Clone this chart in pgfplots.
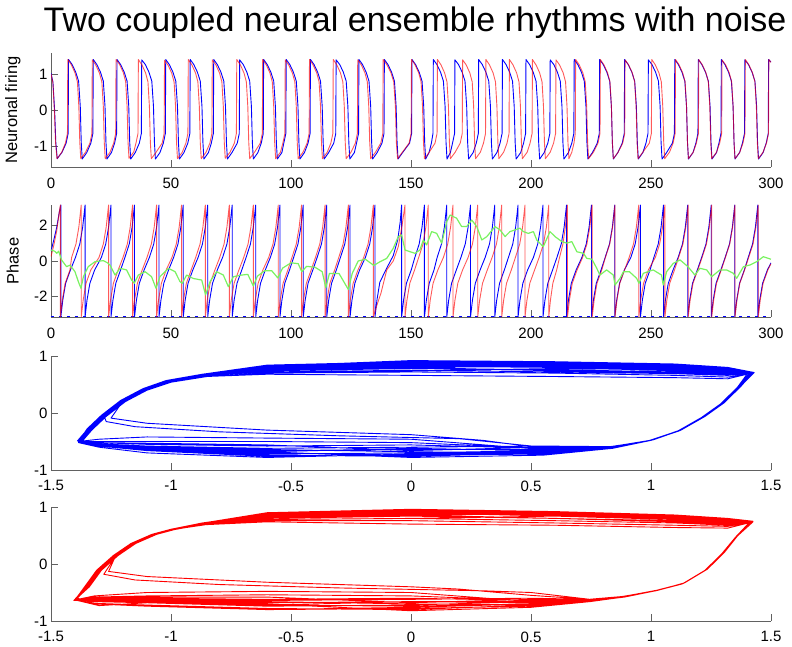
\documentclass[border=0pt]{standalone}
\usepackage{fontspec}
\setmainfont{Liberation Sans}
\usepackage{pgfplots}
\pgfplotsset{compat=1.18}

\definecolor{mblue}{rgb}{0,0,1}
\definecolor{mred}{rgb}{1,0,0}
\definecolor{mgreen}{rgb}{0.48,0.95,0.38}
\definecolor{axgray}{rgb}{0.38,0.38,0.38}

\pgfplotsset{
  mlab/.style={
    scale only axis, width=720pt, height=114pt,
    axis lines=left, axis line style={-, draw=axgray, line width=0.8pt},
    tick align=inside, major tick length=7pt,
    tick style={draw=axgray, line width=0.8pt},
    tick label style={font=\fontsize{15}{17}\selectfont},
    xticklabel style={yshift=-7pt},
    ylabel style={at={(axis description cs:-0.053,0.5)}, anchor=center, font=\fontsize{16.5}{18}\selectfont},
  },
  tline/.style={line width=0.9pt, line join=round},
  loop/.style={line width=0.9pt, line join=round},
}

\begin{document}
\begin{tikzpicture}
\useasboundingbox (0pt,0pt) rectangle (792pt,646pt);
\coordinate (p1) at (51pt,479pt);
\coordinate (p2) at (51pt,329pt);
\coordinate (p3) at (51pt,176pt);
\coordinate (p4) at (51pt,25pt);

\node[font=\fontsize{34}{40}\selectfont, anchor=base] at (415pt,614pt) {Two coupled neural ensemble rhythms with noise};

% ---------------- neuronal firing ----------------
\begin{axis}[mlab, at={(p1)}, anchor=south west,
  xmin=0, xmax=300, ymin=-1.58, ymax=1.58,
  xtick={0,50,100,150,200,250,300}, xticklabels={0,50,100,150,200,250,300},
  ytick={-1,0,1}, yticklabels={-1,0,1},
  ylabel={Neuronal firing}]
\addplot[mblue, tline] coordinates {
(0,1.02)(0.8,0.78)(1.5,0.0)(2.0,-0.9)(2.6,-1.35)(4.6,-1.17)(6.3,-0.92)(7.15,-0.65)
(7.3,1.40)(8.8,1.26)(10.3,1.05)(11.5,0.80)(12.2,0.10)(12.6,-0.90)(13.0,-1.36)(14.9,-1.18)(16.6,-0.92)(17.45,-0.65)
(17.6,1.40)(19.1,1.26)(20.6,1.05)(21.8,0.80)(22.5,0.10)(22.9,-0.90)(23.3,-1.36)(25.2,-1.18)(26.5,-0.92)(27.35,-0.65)
(27.5,1.40)(29.0,1.26)(30.5,1.05)(31.7,0.80)(32.4,0.10)(32.8,-0.90)(33.2,-1.36)(35.1,-1.18)(36.8,-0.92)(37.65,-0.65)
(37.8,1.39)(39.3,1.26)(40.8,1.05)(42.0,0.80)(42.7,0.10)(43.1,-0.90)(43.5,-1.36)(45.4,-1.18)(46.8,-0.92)(47.65,-0.65)
(47.8,1.40)(49.3,1.26)(50.8,1.05)(52.0,0.80)(52.7,0.10)(53.1,-0.90)(53.5,-1.36)(55.4,-1.18)(57.0,-0.92)(57.85,-0.65)
(58.0,1.40)(59.5,1.26)(61.0,1.05)(62.2,0.80)(62.9,0.10)(63.3,-0.90)(63.7,-1.36)(65.6,-1.18)(66.8,-0.92)(67.65,-0.65)
(67.8,1.40)(69.3,1.26)(70.8,1.05)(72.0,0.80)(72.7,0.10)(73.1,-0.90)(73.5,-1.36)(75.4,-1.18)(77.6,-0.92)(78.45,-0.65)
(78.6,1.39)(80.1,1.26)(81.6,1.05)(82.8,0.80)(83.5,0.10)(83.9,-0.90)(84.3,-1.36)(86.2,-1.18)(87.6,-0.92)(88.45,-0.65)
(88.6,1.40)(90.1,1.26)(91.6,1.05)(92.8,0.80)(93.5,0.10)(93.9,-0.90)(94.3,-1.36)(96.2,-1.18)(97.0,-0.92)(97.85,-0.65)
(98.0,1.40)(99.5,1.26)(101.0,1.05)(102.2,0.80)(102.9,0.10)(103.3,-0.90)(103.7,-1.36)(105.6,-1.18)(107.1,-0.92)(107.95,-0.65)
(108.1,1.40)(109.6,1.26)(111.1,1.05)(112.3,0.80)(113.0,0.10)(113.4,-0.90)(113.8,-1.36)(115.7,-1.18)(117.8,-0.92)(118.65,-0.65)
(118.8,1.39)(120.3,1.26)(121.8,1.05)(123.0,0.80)(123.7,0.10)(124.1,-0.90)(124.5,-1.36)(126.4,-1.18)(127.3,-0.92)(128.15,-0.65)
(128.3,1.40)(129.8,1.26)(131.3,1.05)(132.5,0.80)(133.2,0.10)(133.6,-0.90)(134.0,-1.36)(135.9,-1.18)(137.9,-0.92)(138.75,-0.65)
(138.9,1.40)(140.4,1.26)(141.9,1.05)(143.1,0.80)(143.8,0.10)(144.2,-0.90)(144.6,-1.36)(146.5,-1.18)(149.4,-0.92)(150.25,-0.65)
(150.4,1.40)(151.9,1.26)(153.4,1.05)(154.6,0.80)(155.3,0.10)(155.7,-0.90)(156.1,-1.36)(157.5,-1.18)(158.5,-0.92)(159.15,-0.65)
(159.3,1.40)(160.8,1.26)(162.3,1.05)(163.5,0.80)(164.2,0.10)(164.6,-0.90)(165.0,-1.36)(166.4,-1.18)(167.3,-0.92)(168.15,-0.65)
(168.3,1.39)(169.8,1.26)(171.3,1.05)(172.5,0.80)(173.2,0.10)(173.6,-0.90)(174.0,-1.36)(175.9,-1.18)(177.2,-0.92)(178.05,-0.65)
(178.2,1.40)(179.7,1.26)(181.2,1.05)(182.4,0.80)(183.1,0.10)(183.5,-0.90)(183.9,-1.36)(185.8,-1.18)(187.1,-0.92)(187.95,-0.65)
(188.1,1.40)(189.6,1.26)(191.1,1.05)(192.3,0.80)(193.0,0.10)(193.4,-0.90)(193.8,-1.36)(195.7,-1.18)(196.9,-0.92)(197.75,-0.65)
(197.9,1.40)(199.4,1.26)(200.9,1.05)(202.1,0.80)(202.8,0.10)(203.2,-0.90)(203.6,-1.36)(205.5,-1.18)(207.0,-0.92)(207.85,-0.65)
(208.0,1.39)(209.5,1.26)(211.0,1.05)(212.2,0.80)(212.9,0.10)(213.3,-0.90)(213.7,-1.36)(215.6,-1.18)(217.0,-0.92)(217.85,-0.65)
(218.0,1.40)(219.5,1.26)(221.0,1.05)(222.2,0.80)(222.9,0.10)(223.3,-0.90)(223.7,-1.36)(225.6,-1.18)(227.6,-0.92)(228.45,-0.65)
(228.6,1.40)(230.1,1.26)(231.6,1.05)(232.8,0.80)(233.5,0.10)(233.9,-0.90)(234.3,-1.36)(236.2,-1.18)(238.0,-0.92)(238.85,-0.65)
(239.0,1.40)(240.5,1.26)(242.0,1.05)(243.2,0.80)(243.9,0.10)(244.3,-0.90)(244.7,-1.36)(246.6,-1.18)(247.9,-0.92)(248.75,-0.65)
(248.9,1.39)(250.4,1.26)(251.9,1.05)(253.1,0.80)(253.8,0.10)(254.2,-0.90)(254.6,-1.36)(256.5,-1.18)(258.9,-0.92)(259.75,-0.65)
(259.9,1.40)(261.4,1.26)(262.9,1.05)(264.1,0.80)(264.8,0.10)(265.2,-0.90)(265.6,-1.36)(267.5,-1.18)(268.7,-0.92)(269.55,-0.65)
(269.7,1.40)(271.2,1.26)(272.7,1.05)(273.9,0.80)(274.6,0.10)(275.0,-0.90)(275.4,-1.36)(277.3,-1.18)(278.3,-0.92)(279.15,-0.65)
(279.3,1.40)(280.8,1.26)(282.3,1.05)(283.5,0.80)(284.2,0.10)(284.6,-0.90)(285.0,-1.36)(286.9,-1.18)(288.1,-0.92)(288.95,-0.65)
(289.1,1.39)(290.6,1.26)(292.1,1.05)(293.3,0.80)(294.0,0.10)(294.4,-0.90)(294.8,-1.36)(296.7,-1.18)(298.0,-0.92)(298.85,-0.65)
(299.0,1.40)(300,1.33)
};
\addplot[mred, tline, opacity=0.65] coordinates {
(0,1.00)(0.8,0.75)(1.4,0.0)(1.9,-0.9)(2.5,-1.35)(4.5,-1.17)(6.0,-0.92)(6.85,-0.65)
(7.0,1.40)(8.5,1.25)(10.0,1.03)(11.0,0.78)(11.6,0.10)(12.0,-0.90)(12.4,-1.35)(14.4,-1.17)(16.2,-0.92)(17.05,-0.65)
(17.2,1.39)(18.7,1.24)(20.2,1.02)(21.2,0.78)(21.8,0.10)(22.2,-0.90)(22.6,-1.35)(24.6,-1.17)(26.1,-0.92)(26.95,-0.65)
(27.1,1.40)(28.6,1.26)(30.1,1.04)(31.1,0.79)(31.7,0.10)(32.1,-0.90)(32.5,-1.34)(34.5,-1.16)(35.4,-0.92)(36.25,-0.65)
(36.4,1.40)(37.9,1.25)(39.4,1.03)(40.4,0.78)(41.0,0.10)(41.4,-0.90)(41.8,-1.35)(43.8,-1.17)(46.3,-0.92)(47.15,-0.65)
(47.3,1.38)(48.8,1.24)(50.3,1.02)(51.3,0.77)(51.9,0.10)(52.3,-0.90)(52.7,-1.35)(54.7,-1.17)(56.2,-0.92)(57.05,-0.65)
(57.2,1.40)(58.7,1.25)(60.2,1.03)(61.2,0.78)(61.8,0.10)(62.2,-0.90)(62.6,-1.35)(64.6,-1.17)(66.2,-0.92)(67.05,-0.65)
(67.2,1.39)(68.7,1.25)(70.2,1.03)(71.2,0.78)(71.8,0.10)(72.2,-0.90)(72.6,-1.34)(74.6,-1.17)(76.4,-0.92)(77.25,-0.65)
(77.4,1.40)(78.9,1.25)(80.4,1.03)(81.4,0.78)(82.0,0.10)(82.4,-0.90)(82.8,-1.35)(84.8,-1.17)(87.2,-0.92)(88.05,-0.65)
(88.2,1.40)(89.7,1.25)(91.2,1.03)(92.2,0.78)(92.8,0.10)(93.2,-0.90)(93.6,-1.35)(95.6,-1.17)(96.6,-0.92)(97.45,-0.65)
(97.6,1.39)(99.1,1.24)(100.6,1.02)(101.6,0.78)(102.2,0.10)(102.6,-0.90)(103.0,-1.35)(105.0,-1.17)(106.7,-0.92)(107.55,-0.65)
(107.7,1.40)(109.2,1.25)(110.7,1.03)(111.7,0.78)(112.3,0.10)(112.7,-0.90)(113.1,-1.35)(115.1,-1.17)(116.6,-0.92)(117.45,-0.65)
(117.6,1.40)(119.1,1.25)(120.6,1.03)(121.6,0.78)(122.2,0.10)(122.6,-0.90)(123.0,-1.35)(125.0,-1.17)(126.8,-0.92)(127.65,-0.65)
(127.8,1.39)(129.3,1.25)(130.8,1.03)(131.8,0.78)(132.4,0.10)(132.8,-0.90)(133.2,-1.35)(135.2,-1.17)(137.4,-0.92)(138.25,-0.65)
(138.4,1.40)(139.9,1.26)(141.6,1.04)(142.8,0.78)(143.5,0.10)(143.9,-0.90)(144.4,-1.35)(146.4,-1.17)(149.2,-0.92)(150.05,-0.65)
(150.2,1.40)(151.7,1.25)(153.2,1.03)(154.2,0.78)(154.8,0.10)(155.2,-0.90)(155.6,-1.35)(157.6,-1.17)(160.0,-0.92)(160.85,-0.65)
(161.0,1.40)(162.5,1.25)(164.0,1.03)(165.0,0.78)(165.6,0.10)(166.0,-0.90)(166.4,-1.35)(168.4,-1.17)(170.5,-0.92)(171.35,-0.65)
(171.5,1.39)(173.0,1.25)(174.5,1.03)(175.5,0.78)(176.1,0.10)(176.5,-0.90)(176.9,-1.35)(178.9,-1.17)(180.2,-0.92)(181.05,-0.65)
(181.2,1.40)(182.7,1.25)(184.2,1.03)(185.2,0.78)(185.8,0.10)(186.2,-0.90)(186.6,-1.35)(188.6,-1.17)(190.0,-0.92)(190.85,-0.65)
(191.0,1.40)(192.5,1.25)(194.0,1.03)(195.0,0.78)(195.6,0.10)(196.0,-0.90)(196.4,-1.35)(198.4,-1.17)(199.6,-0.92)(200.45,-0.65)
(200.6,1.40)(202.1,1.25)(203.6,1.03)(204.6,0.78)(205.2,0.10)(205.6,-0.90)(206.0,-1.35)(208.0,-1.17)(209.4,-0.92)(210.25,-0.65)
(210.4,1.39)(211.9,1.25)(213.4,1.03)(214.4,0.78)(215.0,0.10)(215.4,-0.90)(215.8,-1.35)(217.0,-1.17)(217.9,-0.92)(218.45,-0.65)
(218.6,1.40)(220.1,1.25)(221.6,1.03)(222.6,0.78)(223.2,0.10)(223.6,-0.90)(224.0,-1.35)(226.0,-1.17)(227.9,-0.92)(228.75,-0.65)
(228.9,1.40)(230.4,1.25)(231.9,1.03)(232.9,0.78)(233.5,0.10)(233.9,-0.90)(234.3,-1.35)(236.3,-1.17)(238.2,-0.92)(239.05,-0.65)
(239.2,1.39)(240.7,1.25)(242.2,1.03)(243.2,0.78)(243.8,0.10)(244.2,-0.90)(244.6,-1.35)(246.6,-1.17)(249.3,-0.92)(250.15,-0.65)
(250.3,1.40)(251.8,1.25)(253.3,1.03)(254.3,0.78)(254.9,0.10)(255.3,-0.90)(255.7,-1.35)(257.7,-1.17)(259.2,-0.92)(260.05,-0.65)
(260.2,1.40)(261.7,1.25)(263.2,1.03)(264.2,0.78)(264.8,0.10)(265.2,-0.90)(265.6,-1.35)(267.6,-1.17)(268.9,-0.92)(269.75,-0.65)
(269.9,1.40)(271.4,1.25)(272.9,1.03)(273.9,0.78)(274.5,0.10)(274.9,-0.90)(275.3,-1.35)(277.3,-1.17)(278.6,-0.92)(279.45,-0.65)
(279.6,1.39)(281.1,1.25)(282.6,1.03)(283.6,0.78)(284.2,0.10)(284.6,-0.90)(285.0,-1.35)(287.0,-1.17)(288.3,-0.92)(289.15,-0.65)
(289.3,1.40)(290.8,1.25)(292.3,1.03)(293.3,0.78)(293.9,0.10)(294.3,-0.90)(294.7,-1.35)(296.7,-1.17)(298.1,-0.92)(298.95,-0.65)
(299.1,1.40)(300,1.32)
};
\end{axis}

% ---------------- phase ----------------
\begin{axis}[mlab, at={(p2)}, anchor=south west, height=112pt,
  xmin=0, xmax=300, ymin=-3.1416, ymax=3.1416,
  xtick={0,50,100,150,200,250,300}, xticklabels={0,50,100,150,200,250,300},
  ytick={-2,0,2}, yticklabels={-2,0,2},
  ylabel={Phase}]
\addplot[mblue, line width=1pt, dash pattern=on 3pt off 5pt] coordinates {(0,-3.10)(300,-3.10)};
\addplot[mblue, tline] coordinates {
(0,0.55)(1.2,1.2)(2.4,1.9)(3.4,2.7)(4.1,3.14)
(4.1,-3.14)(4.9,-2.2)(6.1,-1.25)(8.1,-0.5)(10.2,0.2)(12.0,0.95)(13.2,1.9)(14.2,3.14)
(14.2,-3.14)(15.0,-2.2)(16.2,-1.25)(18.2,-0.5)(21.0,0.2)(22.8,0.95)(24.0,1.9)(25.0,3.14)
(25.0,-3.14)(25.8,-2.2)(27.0,-1.25)(29.0,-0.5)(30.8,0.2)(32.6,0.95)(33.8,1.9)(34.8,3.14)
(34.8,-3.14)(35.6,-2.2)(36.8,-1.25)(38.8,-0.5)(41.0,0.2)(42.8,0.95)(44.0,1.9)(45.0,3.14)
(45.0,-3.14)(45.8,-2.2)(47.0,-1.25)(49.0,-0.5)(51.1,0.2)(52.9,0.95)(54.1,1.9)(55.1,3.14)
(55.1,-3.14)(55.9,-2.2)(57.1,-1.25)(59.1,-0.5)(61.3,0.2)(63.1,0.95)(64.3,1.9)(65.3,3.14)
(65.3,-3.14)(66.1,-2.2)(67.3,-1.25)(69.3,-0.5)(71.5,0.2)(73.3,0.95)(74.5,1.9)(75.5,3.14)
(75.5,-3.14)(76.3,-2.2)(77.5,-1.25)(79.5,-0.5)(81.3,0.2)(83.1,0.95)(84.3,1.9)(85.3,3.14)
(85.3,-3.14)(86.1,-2.2)(87.3,-1.25)(89.3,-0.5)(91.4,0.2)(93.2,0.95)(94.4,1.9)(95.4,3.14)
(95.4,-3.14)(96.2,-2.2)(97.4,-1.25)(99.4,-0.5)(101.1,0.2)(102.9,0.95)(104.1,1.9)(105.1,3.14)
(105.1,-3.14)(105.9,-2.2)(107.1,-1.25)(109.1,-0.5)(110.9,0.2)(112.7,0.95)(113.9,1.9)(114.9,3.14)
(114.9,-3.14)(115.7,-2.2)(116.9,-1.25)(118.9,-0.5)(120.6,0.2)(122.4,0.95)(123.6,1.9)(124.6,3.14)
(124.6,-3.14)(125.4,-2.2)(126.6,-1.25)(128.6,-0.5)(131.0,0.2)(132.8,0.95)(134.0,1.9)(135.0,3.14)
(135.0,-3.14)(135.8,-2.2)(137.0,-1.2)(139.5,-0.5)(142.6,0.3)(144.5,1.2)(145.5,2.2)(146.1,3.14)
(146.1,-3.14)(146.9,-2.2)(148.1,-1.25)(150.1,-0.5)(151.6,0.2)(153.4,0.95)(154.6,1.9)(155.6,3.14)
(155.6,-3.14)(156.4,-2.2)(157.6,-1.25)(159.6,-0.5)(160.9,0.2)(162.7,0.95)(163.9,1.9)(164.9,3.14)
(164.9,-3.14)(165.7,-2.2)(166.9,-1.25)(168.9,-0.5)(170.8,0.2)(172.6,0.95)(173.8,1.9)(174.8,3.14)
(174.8,-3.14)(175.6,-2.2)(176.8,-1.25)(178.8,-0.5)(180.9,0.2)(182.7,0.95)(183.9,1.9)(184.9,3.14)
(184.9,-3.14)(185.7,-2.2)(186.9,-1.25)(188.9,-0.5)(190.6,0.2)(192.4,0.95)(193.6,1.9)(194.6,3.14)
(194.6,-3.14)(195.4,-2.2)(196.6,-1.25)(198.6,-0.5)(201.0,0.2)(202.8,0.95)(204.0,1.9)(205.0,3.14)
(205.0,-3.14)(205.8,-2.2)(207.0,-1.25)(209.0,-0.5)(210.8,0.2)(212.6,0.95)(213.8,1.9)(214.8,3.14)
(214.8,-3.14)(215.6,-2.2)(216.8,-1.25)(218.8,-0.5)(221.2,0.2)(223.0,0.95)(224.2,1.9)(225.2,3.14)
(225.2,-3.14)(226.0,-2.2)(227.2,-1.25)(229.2,-0.5)(230.9,0.2)(232.7,0.95)(233.9,1.9)(234.9,3.14)
(234.9,-3.14)(235.7,-2.2)(236.9,-1.25)(238.9,-0.5)(241.6,0.2)(243.4,0.95)(244.6,1.9)(245.6,3.14)
(245.6,-3.14)(246.4,-2.2)(247.6,-1.25)(249.6,-0.5)(251.2,0.2)(253.0,0.95)(254.2,1.9)(255.2,3.14)
(255.2,-3.14)(256.0,-2.2)(257.2,-1.25)(259.2,-0.5)(261.3,0.2)(263.1,0.95)(264.3,1.9)(265.3,3.14)
(265.3,-3.14)(266.1,-2.2)(267.3,-1.25)(269.3,-0.5)(271.1,0.2)(272.9,0.95)(274.1,1.9)(275.1,3.14)
(275.1,-3.14)(275.9,-2.2)(277.1,-1.25)(279.1,-0.5)(280.9,0.2)(282.7,0.95)(283.9,1.9)(284.9,3.14)
(284.9,-3.14)(285.7,-2.2)(286.9,-1.25)(288.9,-0.5)(290.5,0.2)(292.3,0.95)(293.5,1.9)(294.5,3.14)
(294.5,-3.14)(295.3,-2.2)(296.5,-1.25)(298.5,-0.5)(300,-0.1)
};
\addplot[mred, tline, opacity=0.65] coordinates {
(0,0.25)(1.2,0.9)(2.4,1.7)(3.3,2.6)(3.9,3.14)
(3.9,-3.14)(4.7,-2.2)(5.9,-1.25)(7.9,-0.5)(8.6,0.2)(10.4,0.95)(11.6,1.9)(12.6,3.14)
(12.6,-3.14)(13.4,-2.2)(14.6,-1.25)(16.6,-0.5)(20.0,0.2)(21.8,0.95)(23.0,1.9)(24.0,3.14)
(24.0,-3.14)(24.8,-2.2)(26.0,-1.25)(28.0,-0.5)(30.0,0.2)(31.8,0.95)(33.0,1.9)(34.0,3.14)
(34.0,-3.14)(34.8,-2.2)(36.0,-1.25)(38.0,-0.5)(40.0,0.2)(41.8,0.95)(43.0,1.9)(44.0,3.14)
(44.0,-3.14)(44.8,-2.2)(46.0,-1.25)(48.0,-0.5)(50.4,0.2)(52.2,0.95)(53.4,1.9)(54.4,3.14)
(54.4,-3.14)(55.2,-2.2)(56.4,-1.25)(58.4,-0.5)(60.3,0.2)(62.1,0.95)(63.3,1.9)(64.3,3.14)
(64.3,-3.14)(65.1,-2.2)(66.3,-1.25)(68.3,-0.5)(70.3,0.2)(72.1,0.95)(73.3,1.9)(74.3,3.14)
(74.3,-3.14)(75.1,-2.2)(76.3,-1.25)(78.3,-0.5)(80.3,0.2)(82.1,0.95)(83.3,1.9)(84.3,3.14)
(84.3,-3.14)(85.1,-2.2)(86.3,-1.25)(88.3,-0.5)(90.7,0.2)(92.5,0.95)(93.7,1.9)(94.7,3.14)
(94.7,-3.14)(95.5,-2.2)(96.7,-1.25)(98.7,-0.5)(100.4,0.2)(102.2,0.95)(103.4,1.9)(104.4,3.14)
(104.4,-3.14)(105.2,-2.2)(106.4,-1.25)(108.4,-0.5)(110.2,0.2)(112.0,0.95)(113.2,1.9)(114.2,3.14)
(114.2,-3.14)(115.0,-2.2)(116.2,-1.25)(118.2,-0.5)(119.9,0.2)(121.7,0.95)(122.9,1.9)(123.9,3.14)
(123.9,-3.14)(124.7,-2.2)(125.9,-1.25)(127.9,-0.5)(130.3,0.2)(132.1,0.95)(133.3,1.9)(134.3,3.14)
(134.3,-3.14)(135.5,-2.6)(137.5,-1.8)(139.9,-0.5)(142.6,0.0)(144.7,0.8)(146.3,2.0)(147.5,3.14)
(147.5,-3.14)(148.3,-2.2)(149.5,-1.25)(151.5,-0.5)(153.2,0.2)(155.0,0.95)(156.2,1.9)(157.2,3.14)
(157.2,-3.14)(158.0,-2.2)(159.2,-1.25)(161.2,-0.5)(163.5,0.2)(165.3,0.95)(166.5,1.9)(167.5,3.14)
(167.5,-3.14)(168.3,-2.2)(169.5,-1.25)(171.5,-0.5)(173.8,0.2)(175.6,0.95)(176.8,1.9)(177.8,3.14)
(177.8,-3.14)(178.6,-2.2)(179.8,-1.25)(181.8,-0.5)(183.8,0.2)(185.6,0.95)(186.8,1.9)(187.8,3.14)
(187.8,-3.14)(188.6,-2.2)(189.8,-1.25)(191.8,-0.5)(193.5,0.2)(195.3,0.95)(196.5,1.9)(197.5,3.14)
(197.5,-3.14)(198.3,-2.2)(199.5,-1.25)(201.5,-0.5)(203.4,0.2)(205.2,0.95)(206.4,1.9)(207.4,3.14)
(207.4,-3.14)(208.1,-2.2)(209.1,-1.25)(210.7,-0.5)(211.9,0.2)(213.3,0.95)(214.3,1.9)(215.2,3.14)
(215.2,-3.14)(216.0,-2.2)(217.2,-1.25)(219.2,-0.5)(221.5,0.2)(223.3,0.95)(224.5,1.9)(225.5,3.14)
(225.5,-3.14)(226.3,-2.2)(227.5,-1.25)(229.5,-0.5)(231.0,0.2)(232.8,0.95)(234.0,1.9)(235.0,3.14)
(235.0,-3.14)(235.8,-2.2)(237.0,-1.25)(239.0,-0.5)(240.9,0.2)(242.7,0.95)(243.9,1.9)(244.9,3.14)
(244.9,-3.14)(245.7,-2.2)(246.9,-1.25)(248.9,-0.5)(251.8,0.2)(253.6,0.95)(254.8,1.9)(255.8,3.14)
(255.8,-3.14)(256.6,-2.2)(257.8,-1.25)(259.8,-0.5)(261.5,0.2)(263.3,0.95)(264.5,1.9)(265.5,3.14)
(265.5,-3.14)(266.3,-2.2)(267.5,-1.25)(269.5,-0.5)(271.3,0.2)(273.1,0.95)(274.3,1.9)(275.3,3.14)
(275.3,-3.14)(276.1,-2.2)(277.3,-1.25)(279.3,-0.5)(281.0,0.2)(282.8,0.95)(284.0,1.9)(285.0,3.14)
(285.0,-3.14)(285.8,-2.2)(287.0,-1.25)(289.0,-0.5)(290.7,0.2)(292.5,0.95)(293.7,1.9)(294.7,3.14)
(294.7,-3.14)(295.5,-2.2)(296.7,-1.25)(298.7,-0.5)(300,-0.15)
};
\addplot[mgreen, line width=1.2pt, line join=round] coordinates {
(0,0.62)(1.5,0.55)(2.4,0.43)(3.2,0.55)(4.4,0.06)(6.5,-0.32)(7.9,-0.23)(10.0,-0.6)(11.4,-1.16)(12.5,-1.53)
(13.5,-0.88)(15.5,-0.32)(18.3,-0.04)(21.8,0.02)(23.5,-0.1)(24.6,-0.23)(26.7,-0.79)(28.75,-0.41)(31.5,-0.5)
(33.6,-1.07)(34.7,-1.25)(36.4,-0.79)(39.2,-0.6)(41.9,-0.88)(43.75,-1.53)(45.4,-0.88)(48.9,-0.41)(51.7,-0.6)
(53.75,-1.16)(54.7,-1.25)(56.5,-0.79)(59.3,-0.98)(62.8,-1.07)(64.4,-1.9)(66.25,-1.16)(69.0,-0.6)(71.8,-0.79)
(73.9,-1.44)(76.0,-0.88)(79.4,-0.79)(82.0,-0.75)(84.3,-1.4)(86.0,-0.85)(89.0,-0.55)(92.0,-0.55)(94.5,-0.95)
(96.5,-0.4)(100.0,-0.1)(103.0,-0.15)(104.5,-0.6)(106.5,-0.3)(110.0,-0.35)(113.0,-0.6)(114.5,-1.5)(116.0,-0.7)
(120.0,-0.7)(123.9,-1.6)(125.5,-0.7)(128.0,0.0)(131.0,0.1)(133.0,-0.1)(134.5,-0.25)(137.1,-0.04)(139.9,0.15)
(142.6,0.71)(144.7,1.37)(146.1,1.46)(147.5,0.62)(149.6,0.52)(151.7,0.43)(153.75,0.62)(155.1,1.18)(156.5,0.9)
(158.6,1.65)(160.7,1.55)(162.8,1.0)(164.9,2.21)(166.3,2.58)(169.0,2.4)(171.1,1.93)(173.2,1.93)(175.3,2.3)
(177.4,1.93)(179.5,1.18)(181.6,1.37)(185.0,1.93)(187.1,1.74)(189.2,1.37)(191.25,1.65)(195.4,1.84)(196.8,1.65)
(198.9,1.55)(201.0,1.65)(202.4,1.18)(205.1,0.8)(207.9,1.65)(210.0,1.37)(212.8,1.09)(214.9,1.0)(217.0,1.09)
(219.1,0.52)(221.9,0.43)(223.2,0.15)(225.4,0.1)(227.4,-0.41)(228.7,-0.79)(231.5,-0.5)(234.3,-0.79)(235.0,-1.35)
(237.1,-0.97)(238.5,-0.6)(241.0,-0.6)(244.0,-0.97)(245.0,-1.25)(246.8,-0.69)(250.9,-0.5)(254.4,-0.79)(255.1,-1.35)
(256.5,-0.6)(259.3,-0.13)(262.1,0.06)(265.4,-0.32)(268.3,-0.79)(270.4,-0.41)(273.2,-0.5)(275.3,-0.88)(278.7,-0.5)
(281.5,-0.5)(284.3,-0.69)(285.7,-0.97)(288.5,-0.32)(291.3,-0.22)(294.0,-0.04)(296.8,0.24)(298.8,0.15)(300,0.1)
};
\end{axis}

% ---------------- blue phase portrait ----------------
\begin{axis}[mlab, at={(p3)}, anchor=south west,
  xmin=-1.5, xmax=1.5, ymin=-1, ymax=1,
  xtick={-1.5,-1,-0.5,0,0.5,1,1.5}, xticklabels={-1.5,-1,-0.5,0,0.5,1,1.5},
  ytick={-1,0,1}, yticklabels={-1,0,1}]
\addplot[mblue, loop] coordinates {
(-1.385,-0.50)(-1.34,-0.28)(-1.28,-0.04)(-1.20,0.22)(-1.11,0.42)(-1.01,0.56)(-0.86,0.67)(-0.60,0.80)(0.00,0.86)(0.60,0.84)(1.10,0.80)(1.32,0.75)(1.42,0.70)(1.37,0.46)(1.30,0.17)(1.22,-0.07)(1.12,-0.31)(1.00,-0.48)(0.84,-0.60)(0.55,-0.66)(0.00,-0.70)(-0.60,-0.72)(-1.10,-0.64)(-1.30,-0.57)
(-1.380,-0.51)(-1.33,-0.29)(-1.27,-0.05)(-1.19,0.21)(-1.10,0.41)(-1.00,0.55)(-0.85,0.65)(-0.60,0.74)(0.00,0.78)(0.60,0.76)(1.10,0.72)(1.32,0.68)(1.41,0.69)(1.36,0.45)(1.29,0.16)(1.21,-0.08)(1.11,-0.32)(0.99,-0.49)(0.83,-0.59)(0.55,-0.58)(0.00,-0.60)(-0.60,-0.62)(-1.10,-0.58)(-1.30,-0.54)
(-1.390,-0.49)(-1.345,-0.27)(-1.285,-0.03)(-1.205,0.23)(-1.115,0.43)(-1.02,0.57)(-0.87,0.68)(-0.60,0.84)(0.00,0.90)(0.60,0.88)(1.10,0.84)(1.32,0.78)(1.425,0.71)(1.375,0.47)(1.305,0.18)(1.225,-0.06)(1.125,-0.30)(1.01,-0.47)(0.85,-0.61)(0.55,-0.70)(0.00,-0.76)(-0.60,-0.74)(-1.10,-0.66)(-1.30,-0.58)
(-1.375,-0.52)(-1.33,-0.30)(-1.27,-0.06)(-1.19,0.20)(-1.10,0.40)(-1.00,0.54)(-0.85,0.64)(-0.60,0.70)(0.00,0.72)(0.60,0.70)(1.10,0.66)(1.32,0.63)(1.40,0.68)(1.36,0.45)(1.29,0.16)(1.21,-0.08)(1.11,-0.32)(0.99,-0.49)(0.83,-0.60)(0.55,-0.62)(0.00,-0.52)(-0.60,-0.50)(-1.10,-0.50)(-1.30,-0.50)
(-1.385,-0.50)(-1.34,-0.28)(-1.28,-0.04)(-1.20,0.22)(-1.11,0.42)(-1.01,0.56)(-0.86,0.66)(-0.60,0.78)(0.00,0.82)(0.60,0.80)(1.10,0.76)(1.32,0.72)(1.42,0.70)(1.37,0.46)(1.30,0.17)(1.22,-0.07)(1.12,-0.31)(1.00,-0.48)(0.84,-0.62)(0.55,-0.74)(0.00,-0.78)(-0.60,-0.68)(-1.10,-0.60)(-1.30,-0.55)
(-1.38,-0.50)(-1.335,-0.28)(-1.275,-0.04)(-1.195,0.22)(-1.105,0.42)(-1.005,0.56)(-0.855,0.64)(-0.60,0.68)(0.00,0.66)(0.60,0.64)(1.10,0.62)(1.32,0.60)(1.41,0.69)(1.365,0.46)(1.295,0.17)(1.215,-0.07)(1.115,-0.31)(0.995,-0.48)(0.835,-0.59)(0.55,-0.60)(0.00,-0.66)(-0.60,-0.56)(-1.10,-0.53)(-1.30,-0.52)
(-1.385,-0.50)(-1.34,-0.28)(-1.28,-0.04)(-1.20,0.22)(-1.11,0.42)(-1.01,0.56)(-0.86,0.67)(-0.60,0.82)(0.00,0.92)(0.60,0.90)(1.10,0.86)(1.32,0.80)(1.43,0.71)(1.37,0.46)(1.30,0.17)(1.22,-0.07)(1.12,-0.31)(1.00,-0.48)(0.84,-0.60)(0.55,-0.62)(0.30,-0.48)(0.00,-0.38)(-0.60,-0.30)(-1.10,-0.18)(-1.25,-0.09)
(-1.20,0.21)(-1.11,0.41)(-1.01,0.56)(-0.86,0.66)(-0.60,0.76)(0.00,0.80)(0.60,0.74)(1.10,0.70)(1.32,0.66)(1.42,0.70)(1.37,0.46)(1.30,0.17)(1.22,-0.07)(1.12,-0.31)(1.00,-0.48)(0.84,-0.60)(0.55,-0.68)(0.00,-0.72)(-0.60,-0.78)(-1.10,-0.70)(-1.30,-0.60)
(-1.385,-0.52)(-1.34,-0.29)(-1.28,-0.05)(-1.20,0.21)(-1.11,0.41)(-1.01,0.55)(-0.86,0.66)(-0.60,0.79)(0.00,0.84)(0.60,0.82)(1.10,0.78)(1.32,0.73)(1.42,0.70)(1.37,0.46)(1.30,0.17)(1.22,-0.07)(1.12,-0.31)(1.00,-0.48)(0.84,-0.60)(0.55,-0.60)(0.20,-0.45)(-0.30,-0.40)(-0.80,-0.33)(-1.15,-0.24)(-1.27,-0.15)(-1.28,-0.04)
(-1.20,0.22)(-1.11,0.42)(-1.01,0.56)(-0.86,0.66)(-0.60,0.72)(0.00,0.75)(0.60,0.72)(1.10,0.69)(1.32,0.66)(1.415,0.70)(1.37,0.46)(1.30,0.17)(1.22,-0.07)(1.12,-0.31)(1.00,-0.48)(0.84,-0.60)(0.55,-0.64)(0.00,-0.64)(-0.60,-0.66)(-1.10,-0.60)(-1.30,-0.55)(-1.385,-0.50)
(-1.34,-0.28)(-1.28,-0.04)(-1.20,0.22)(-1.11,0.42)(-1.01,0.56)(-0.86,0.67)(-0.60,0.82)(0.00,0.88)(0.60,0.86)(1.10,0.82)(1.32,0.77)(1.42,0.70)(1.37,0.46)(1.30,0.17)(1.22,-0.07)(1.12,-0.31)(1.00,-0.48)(0.84,-0.60)(0.55,-0.70)(0.00,-0.74)(-0.60,-0.70)(-1.10,-0.62)(-1.30,-0.56)(-1.385,-0.50)
(-1.33,-0.28)(-1.265,-0.04)(-1.185,0.22)(-1.095,0.42)(-0.995,0.56)(-0.85,0.66)(-0.60,0.77)(0.00,0.84)(0.60,0.86)(1.10,0.82)(1.32,0.76)(1.42,0.70)(1.37,0.46)(1.30,0.17)(1.22,-0.07)(1.12,-0.31)(1.00,-0.48)(0.84,-0.60)(0.55,-0.62)(0.00,-0.56)(-0.60,-0.58)(-1.10,-0.55)(-1.30,-0.52)(-1.385,-0.50)
(-1.35,-0.28)(-1.29,-0.04)(-1.21,0.22)(-1.12,0.42)(-1.02,0.56)(-0.87,0.66)(-0.60,0.72)(0.00,0.74)(0.60,0.78)(1.10,0.76)(1.32,0.70)(1.415,0.70)(1.37,0.46)(1.30,0.17)(1.22,-0.07)(1.12,-0.31)(1.00,-0.48)(0.84,-0.62)(0.55,-0.70)(0.00,-0.68)(-0.60,-0.64)(-1.10,-0.60)(-1.30,-0.56)(-1.385,-0.51)
(-1.34,-0.28)(-1.28,-0.04)(-1.20,0.22)(-1.11,0.42)(-1.01,0.56)(-0.86,0.67)(-0.60,0.80)(0.00,0.88)(0.60,0.84)(1.10,0.78)(1.32,0.74)(1.42,0.70)(1.37,0.46)(1.30,0.17)(1.22,-0.07)(1.12,-0.31)(1.00,-0.48)(0.84,-0.60)(0.55,-0.64)(0.00,-0.46)(-0.60,-0.44)(-1.10,-0.42)(-1.30,-0.46)(-1.385,-0.50)
(-1.345,-0.28)(-1.285,-0.04)(-1.205,0.22)(-1.115,0.42)(-1.015,0.56)(-0.865,0.66)(-0.60,0.75)(0.00,0.80)(0.60,0.82)(1.10,0.80)(1.32,0.74)(1.42,0.70)(1.37,0.46)(1.30,0.17)(1.22,-0.07)(1.12,-0.31)(1.00,-0.48)(0.84,-0.62)(0.55,-0.72)(0.00,-0.74)(-0.60,-0.76)(-1.10,-0.66)(-1.30,-0.57)(-1.385,-0.50)
(-1.335,-0.28)(-1.275,-0.04)(-1.195,0.22)(-1.105,0.42)(-1.005,0.56)(-0.855,0.67)(-0.60,0.83)(0.00,0.87)(0.60,0.80)(1.10,0.74)(1.32,0.70)(1.42,0.70)(1.37,0.46)(1.30,0.17)(1.22,-0.07)(1.12,-0.31)(1.00,-0.48)(0.84,-0.60)(0.55,-0.66)(0.00,-0.62)(-0.60,-0.68)(-1.10,-0.62)(-1.30,-0.55)(-1.385,-0.50)
};
\end{axis}

% ---------------- red phase portrait ----------------
\begin{axis}[mlab, at={(p4)}, anchor=south west,
  xmin=-1.5, xmax=1.5, ymin=-1, ymax=1,
  xtick={-1.5,-1,-0.5,0,0.5,1,1.5}, xticklabels={-1.5,-1,-0.5,0,0.5,1,1.5},
  ytick={-1,0,1}, yticklabels={-1,0,1}]
\addplot[mred, loop] coordinates {
(-1.40,-0.63)(-1.35,-0.40)(-1.30,-0.11)(-1.23,0.15)(-1.157,0.36)(-1.07,0.52)(-0.99,0.61)(-0.86,0.71)(-0.60,0.86)(0.00,0.92)(0.60,0.88)(1.10,0.82)(1.32,0.77)(1.42,0.74)(1.357,0.48)(1.30,0.19)(1.23,-0.10)(1.135,-0.34)(1.024,-0.46)(0.885,-0.57)(0.746,-0.63)(0.50,-0.66)(0.00,-0.72)(-0.60,-0.74)(-1.10,-0.68)(-1.32,-0.66)
(-1.395,-0.62)(-1.345,-0.39)(-1.295,-0.10)(-1.225,0.16)(-1.152,0.37)(-1.065,0.53)(-0.985,0.61)(-0.855,0.70)(-0.60,0.80)(0.00,0.84)(0.60,0.80)(1.10,0.76)(1.32,0.72)(1.415,0.73)(1.352,0.47)(1.295,0.18)(1.225,-0.11)(1.13,-0.35)(1.02,-0.47)(0.88,-0.57)(0.74,-0.62)(0.50,-0.60)(0.00,-0.62)(-0.60,-0.64)(-1.10,-0.62)(-1.32,-0.63)
(-1.405,-0.64)(-1.355,-0.41)(-1.305,-0.12)(-1.235,0.14)(-1.162,0.35)(-1.075,0.51)(-0.995,0.61)(-0.865,0.72)(-0.60,0.90)(0.00,0.96)(0.60,0.92)(1.10,0.86)(1.32,0.80)(1.425,0.75)(1.36,0.49)(1.305,0.20)(1.235,-0.09)(1.14,-0.33)(1.03,-0.46)(0.89,-0.58)(0.75,-0.65)(0.50,-0.72)(0.00,-0.80)(-0.60,-0.78)(-1.10,-0.72)(-1.32,-0.69)
(-1.39,-0.60)(-1.345,-0.39)(-1.295,-0.10)(-1.225,0.16)(-1.152,0.37)(-1.065,0.53)(-0.985,0.61)(-0.855,0.70)(-0.60,0.76)(0.00,0.76)(0.60,0.72)(1.10,0.68)(1.32,0.66)(1.41,0.73)(1.352,0.47)(1.295,0.18)(1.225,-0.11)(1.13,-0.35)(1.02,-0.47)(0.88,-0.58)(0.74,-0.63)(0.50,-0.64)(0.00,-0.56)(-0.60,-0.54)(-1.10,-0.56)(-1.32,-0.58)
(-1.40,-0.63)(-1.35,-0.40)(-1.30,-0.11)(-1.23,0.15)(-1.157,0.36)(-1.07,0.52)(-0.99,0.61)(-0.86,0.71)(-0.60,0.84)(0.00,0.88)(0.60,0.86)(1.10,0.80)(1.32,0.75)(1.42,0.74)(1.357,0.48)(1.30,0.19)(1.23,-0.10)(1.135,-0.34)(1.024,-0.46)(0.885,-0.58)(0.746,-0.66)(0.50,-0.76)(0.00,-0.82)(-0.60,-0.70)(-1.10,-0.66)(-1.32,-0.65)
(-1.395,-0.62)(-1.345,-0.39)(-1.295,-0.10)(-1.225,0.16)(-1.152,0.37)(-1.065,0.53)(-0.985,0.61)(-0.855,0.69)(-0.60,0.74)(0.00,0.70)(0.60,0.68)(1.10,0.64)(1.32,0.63)(1.415,0.73)(1.352,0.47)(1.295,0.18)(1.225,-0.11)(1.13,-0.35)(1.02,-0.47)(0.88,-0.57)(0.74,-0.62)(0.50,-0.62)(0.00,-0.68)(-0.60,-0.58)(-1.10,-0.58)(-1.32,-0.60)
(-1.40,-0.63)(-1.35,-0.40)(-1.30,-0.11)(-1.23,0.15)(-1.157,0.36)(-1.07,0.52)(-0.99,0.61)(-0.86,0.71)(-0.60,0.88)(0.00,0.94)(0.60,0.90)(1.10,0.84)(1.32,0.78)(1.425,0.74)(1.357,0.48)(1.30,0.19)(1.23,-0.10)(1.135,-0.34)(1.024,-0.46)(0.885,-0.57)(0.746,-0.62)(0.50,-0.55)(0.20,-0.44)(0.00,-0.40)(-0.60,-0.32)(-1.10,-0.22)(-1.26,-0.13)
(-1.23,0.15)(-1.157,0.36)(-1.07,0.52)(-0.99,0.61)(-0.86,0.70)(-0.60,0.82)(0.00,0.86)(0.60,0.80)(1.10,0.74)(1.32,0.70)(1.42,0.74)(1.357,0.48)(1.30,0.19)(1.23,-0.10)(1.135,-0.34)(1.024,-0.46)(0.885,-0.57)(0.746,-0.64)(0.50,-0.70)(0.00,-0.76)(-0.60,-0.80)(-1.10,-0.74)(-1.32,-0.70)(-1.40,-0.63)
(-1.35,-0.40)(-1.30,-0.11)(-1.23,0.15)(-1.157,0.36)(-1.07,0.52)(-0.99,0.61)(-0.86,0.71)(-0.60,0.85)(0.00,0.90)(0.60,0.86)(1.10,0.80)(1.32,0.76)(1.42,0.74)(1.357,0.48)(1.30,0.19)(1.23,-0.10)(1.135,-0.34)(1.024,-0.46)(0.885,-0.57)(0.746,-0.62)(0.50,-0.50)(0.30,-0.47)(-0.30,-0.42)(-0.80,-0.36)(-1.15,-0.28)(-1.28,-0.18)
(-1.23,0.14)(-1.157,0.35)(-1.07,0.51)(-0.99,0.60)(-0.86,0.70)(-0.60,0.78)(0.00,0.80)(0.60,0.76)(1.10,0.72)(1.32,0.68)(1.415,0.73)(1.357,0.48)(1.30,0.19)(1.23,-0.10)(1.135,-0.34)(1.024,-0.46)(0.885,-0.57)(0.746,-0.63)(0.50,-0.66)(0.00,-0.66)(-0.60,-0.68)(-1.10,-0.64)(-1.32,-0.64)(-1.40,-0.63)
(-1.35,-0.40)(-1.30,-0.11)(-1.23,0.15)(-1.157,0.36)(-1.07,0.52)(-0.99,0.61)(-0.86,0.71)(-0.60,0.88)(0.00,0.93)(0.60,0.90)(1.10,0.84)(1.32,0.78)(1.42,0.74)(1.357,0.48)(1.30,0.19)(1.23,-0.10)(1.135,-0.34)(1.024,-0.46)(0.885,-0.57)(0.746,-0.64)(0.50,-0.70)(0.00,-0.74)(-0.60,-0.72)(-1.10,-0.68)(-1.30,-0.73)(-1.40,-0.63)
(-1.345,-0.40)(-1.295,-0.11)(-1.225,0.15)(-1.152,0.36)(-1.065,0.52)(-0.985,0.61)(-0.855,0.71)(-0.60,0.82)(0.00,0.90)(0.60,0.90)(1.10,0.84)(1.32,0.78)(1.42,0.74)(1.357,0.48)(1.30,0.19)(1.23,-0.10)(1.135,-0.34)(1.024,-0.46)(0.885,-0.57)(0.746,-0.63)(0.50,-0.64)(0.00,-0.60)(-0.60,-0.62)(-1.10,-0.60)(-1.32,-0.62)(-1.40,-0.63)
(-1.355,-0.40)(-1.305,-0.11)(-1.235,0.15)(-1.162,0.36)(-1.075,0.52)(-0.995,0.61)(-0.865,0.70)(-0.60,0.78)(0.00,0.80)(0.60,0.84)(1.10,0.80)(1.32,0.74)(1.415,0.74)(1.357,0.48)(1.30,0.19)(1.23,-0.10)(1.135,-0.34)(1.024,-0.46)(0.885,-0.58)(0.746,-0.66)(0.50,-0.72)(0.00,-0.70)(-0.60,-0.66)(-1.10,-0.64)(-1.32,-0.64)(-1.40,-0.63)
(-1.35,-0.40)(-1.30,-0.11)(-1.23,0.15)(-1.157,0.36)(-1.07,0.52)(-0.99,0.61)(-0.86,0.71)(-0.60,0.86)(0.00,0.92)(0.60,0.86)(1.10,0.80)(1.32,0.76)(1.42,0.74)(1.357,0.48)(1.30,0.19)(1.23,-0.10)(1.135,-0.34)(1.024,-0.46)(0.885,-0.57)(0.746,-0.63)(0.50,-0.66)(0.00,-0.50)(-0.60,-0.48)(-1.10,-0.50)(-1.32,-0.56)(-1.40,-0.63)
(-1.34,-0.40)(-1.29,-0.11)(-1.22,0.15)(-1.147,0.36)(-1.06,0.52)(-0.98,0.61)(-0.85,0.70)(-0.60,0.80)(0.00,0.86)(0.60,0.88)(1.10,0.84)(1.32,0.78)(1.42,0.74)(1.357,0.48)(1.30,0.19)(1.23,-0.10)(1.135,-0.34)(1.024,-0.46)(0.885,-0.58)(0.746,-0.66)(0.50,-0.74)(0.00,-0.78)(-0.60,-0.80)(-1.10,-0.72)(-1.32,-0.70)(-1.40,-0.63)
(-1.36,-0.40)(-1.31,-0.11)(-1.24,0.15)(-1.167,0.36)(-1.08,0.52)(-1.0,0.61)(-0.87,0.72)(-0.60,0.88)(0.00,0.90)(0.60,0.84)(1.10,0.78)(1.32,0.74)(1.42,0.74)(1.357,0.48)(1.30,0.19)(1.23,-0.10)(1.135,-0.34)(1.024,-0.46)(0.885,-0.57)(0.746,-0.64)(0.50,-0.68)(0.00,-0.66)(-0.60,-0.72)(-1.10,-0.66)(-1.32,-0.66)(-1.40,-0.63)
};
\end{axis}
\end{tikzpicture}
\end{document}
